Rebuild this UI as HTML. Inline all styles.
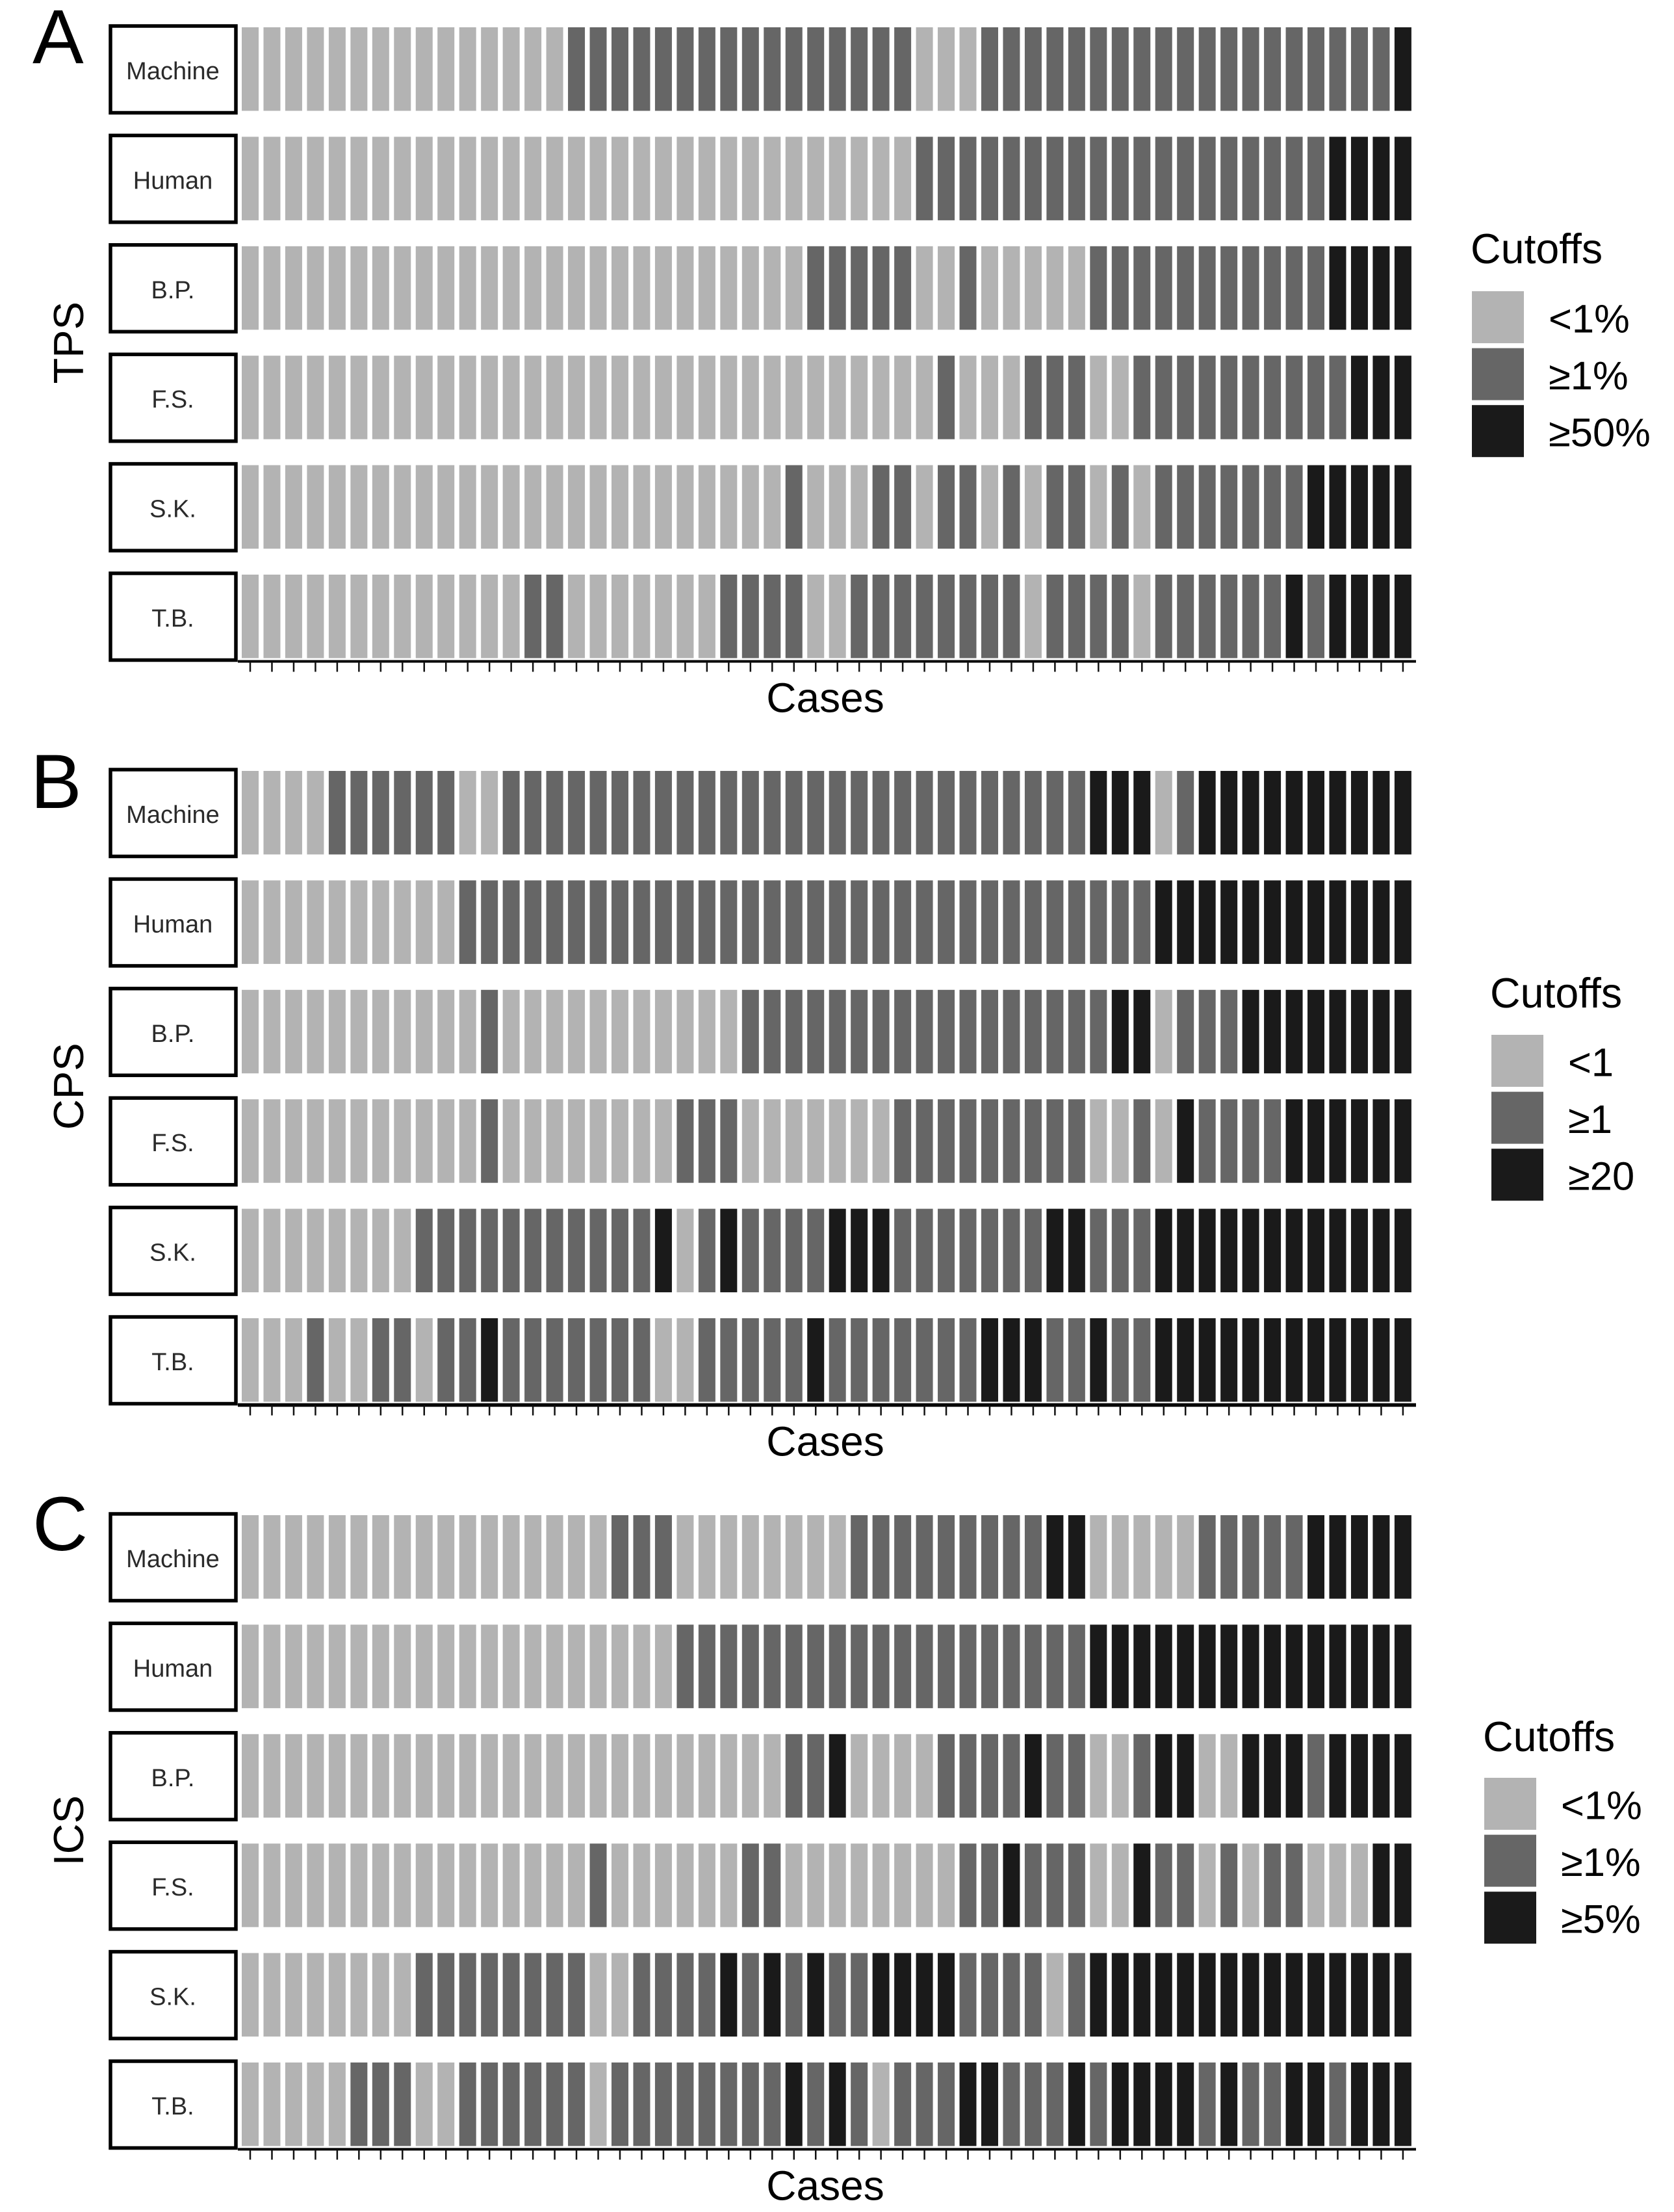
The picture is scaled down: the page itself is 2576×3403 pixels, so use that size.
<!DOCTYPE html>
<html lang="en">
<head>
<meta charset="utf-8">
<title>Cutoff agreement heatmaps: TPS, CPS, ICS</title>
<style>
html,body{margin:0;padding:0;background:#fff;}
svg{display:block;font-family:"Liberation Sans",Arial,sans-serif;}
</style>
</head>
<body>
<svg id="chart" xmlns="http://www.w3.org/2000/svg" width="2576" height="3403" viewBox="0 0 2576 3403"></svg>
<script>
const raters = ["Machine", "Human", "B.P.", "F.S.", "S.K.", "T.B."];
const panelLetters = ["A", "B", "C"];
const panelScores = ["TPS", "CPS", "ICS"];
const xTitle = "Cases";
const legendTitle = "Cutoffs";
const tpsLegend = ["<1%", "≥1%", "≥50%"];
const cpsLegend = ["<1", "≥1", "≥20"];
const icsLegend = ["<1%", "≥1%", "≥5%"];

const tpsMachine = [0,0,0,0,0,0,0,0,0,0, 0,0,0,0,0,1,1,1,1,1, 1,1,1,1,1,1,1,1,1,1, 1,0,0,0,1,1,1,1,1,1, 1,1,1,1,1,1,1,1,1,1, 1,1,1,2];
const tpsHuman   = [0,0,0,0,0,0,0,0,0,0, 0,0,0,0,0,0,0,0,0,0, 0,0,0,0,0,0,0,0,0,0, 0,1,1,1,1,1,1,1,1,1, 1,1,1,1,1,1,1,1,1,1, 2,2,2,2];
const tpsBP      = [0,0,0,0,0,0,0,0,0,0, 0,0,0,0,0,0,0,0,0,0, 0,0,0,0,0,0,1,1,1,1, 1,0,0,1,0,0,0,0,0,1, 1,1,1,1,1,1,1,1,1,1, 2,2,2,2];
const tpsFS      = [0,0,0,0,0,0,0,0,0,0, 0,0,0,0,0,0,0,0,0,0, 0,0,0,0,0,0,0,0,0,0, 0,0,1,0,0,0,1,1,1,0, 0,1,1,1,1,1,1,1,1,1, 1,2,2,2];
const tpsSK      = [0,0,0,0,0,0,0,0,0,0, 0,0,0,0,0,0,0,0,0,0, 0,0,0,0,0,1,0,0,0,1, 1,0,1,1,0,1,0,1,1,0, 1,0,1,1,1,1,1,1,1,2, 2,2,2,2];
const tpsTB      = [0,0,0,0,0,0,0,0,0,0, 0,0,0,1,1,0,0,0,0,0, 0,0,1,1,1,1,0,0,1,1, 1,1,1,1,1,1,0,1,1,1, 1,0,1,1,1,1,1,1,2,1, 2,2,2,2];

const cpsMachine = [0,0,0,0,1,1,1,1,1,1, 0,0,1,1,1,1,1,1,1,1, 1,1,1,1,1,1,1,1,1,1, 1,1,1,1,1,1,1,1,1,2, 2,2,0,1,2,2,2,2,2,2, 2,2,2,2];
const cpsHuman   = [0,0,0,0,0,0,0,0,0,0, 1,1,1,1,1,1,1,1,1,1, 1,1,1,1,1,1,1,1,1,1, 1,1,1,1,1,1,1,1,1,1, 1,1,2,2,2,2,2,2,2,2, 2,2,2,2];
const cpsBP      = [0,0,0,0,0,0,0,0,0,0, 0,1,0,0,0,0,0,0,0,0, 0,0,0,1,1,1,1,1,1,1, 1,1,1,1,1,1,1,1,1,1, 2,2,0,1,1,1,2,2,2,2, 2,2,2,2];
const cpsFS      = [0,0,0,0,0,0,0,0,0,0, 0,1,0,0,0,0,0,0,0,0, 1,1,1,0,0,0,0,0,0,0, 1,1,1,1,1,1,1,1,1,0, 0,1,0,2,1,1,1,1,2,2, 2,2,2,2];
const cpsSK      = [0,0,0,0,0,0,0,0,1,1, 1,1,1,1,1,1,1,1,1,2, 0,1,2,1,1,1,1,2,2,2, 1,1,1,1,1,1,1,2,2,1, 1,1,2,2,2,2,2,2,2,2, 2,2,2,2];
const cpsTB      = [0,0,0,1,0,0,1,1,0,1, 1,2,1,1,1,1,1,1,1,0, 0,1,1,1,1,1,2,1,1,1, 1,1,1,1,2,2,2,1,1,2, 1,1,2,2,2,2,2,2,2,2, 2,2,2,2];

const icsMachine = [0,0,0,0,0,0,0,0,0,0, 0,0,0,0,0,0,0,1,1,1, 0,0,0,0,0,0,0,0,1,1, 1,1,1,1,1,1,1,2,2,0, 0,0,0,0,1,1,1,1,1,2, 2,2,2,2];
const icsHuman   = [0,0,0,0,0,0,0,0,0,0, 0,0,0,0,0,0,0,0,0,0, 1,1,1,1,1,1,1,1,1,1, 1,1,1,1,1,1,1,1,1,2, 2,2,2,2,2,2,2,2,2,2, 2,2,2,2];
const icsBP      = [0,0,0,0,0,0,0,0,0,0, 0,0,0,0,0,0,0,0,0,0, 0,0,0,0,0,1,1,2,0,0, 0,0,1,1,1,1,2,1,1,0, 0,1,2,2,0,0,2,2,2,1, 2,2,2,2];
const icsFS      = [0,0,0,0,0,0,0,0,0,0, 0,0,0,0,0,0,1,0,0,0, 0,0,0,1,1,0,0,0,0,0, 0,0,0,1,1,2,1,1,1,0, 0,2,1,1,0,1,0,1,1,0, 0,0,2,2];
const icsSK      = [0,0,0,0,0,0,0,0,1,1, 1,1,1,1,1,1,0,0,1,1, 1,1,2,1,2,1,2,1,1,2, 2,2,2,1,1,1,1,0,1,2, 2,2,2,2,2,2,2,2,2,2, 2,2,2,2];
const icsTB      = [0,0,0,0,0,1,1,1,0,0, 1,1,1,1,1,1,0,1,1,1, 1,1,1,1,1,2,1,2,1,0, 1,1,1,2,2,1,1,1,2,1, 2,2,2,2,1,2,1,1,2,2, 1,2,2,2];

const tpsRows = [tpsMachine, tpsHuman, tpsBP, tpsFS, tpsSK, tpsTB];
const cpsRows = [cpsMachine, cpsHuman, cpsBP, cpsFS, cpsSK, cpsTB];
const icsRows = [icsMachine, icsHuman, icsBP, icsFS, icsSK, icsTB];
const panelRows = [tpsRows, cpsRows, icsRows];
const panelLegends = [tpsLegend, cpsLegend, icsLegend];

/* ---- layout ---- */
const levelFill = ["#b3b3b3", "#666666", "#1a1a1a"];
const barWidth = 26;
const barHeight = 128.5;
const panelTop = [42, 1186, 2331];
const legendLeft = [2264, 2294, 2283];
const legendTitleBase = [405, 1550, 2694];
const swatchTop = [448, 1592, 2735];
const labelLeft = [2383, 2413, 2402];
const letterBase = [97, 1243, 2385];
const letterLeft = [50, 47, 50];

function xScale(i) { return 385 + i * 33.47; }
function yScale(panel, r) { return panelTop[panel] + r * 168.4; }

const svg = document.getElementById("chart");
const NS = "http://www.w3.org/2000/svg";
function make(tag, attrs, parent) {
  const n = document.createElementNS(NS, tag);
  for (const k in attrs) n.setAttribute(k, attrs[k]);
  parent.appendChild(n);
  return n;
}

panelRows.forEach(function (rows, p) {
  const group = make("g", {}, svg);
  
  

  const letter = make("text", {x: letterLeft[p], y: letterBase[p], "font-size": 118, fill: "#000"}, group);
  letter.textContent = panelLetters[p];
  
  

  const midY = yScale(p, 2.5) + barHeight / 2;
  const yTitle = make("text", {x: 0, y: 0, "font-size": 65, fill: "#000", "text-anchor": "middle",
    transform: "translate(128," + midY + ") rotate(-90)"}, group);
  yTitle.textContent = panelScores[p];
  
  

  rows.forEach(function (values, r) {
    const top = yScale(p, r);

    const strip = make("rect", {x: 170, y: top - 2, width: 193, height: barHeight + 5, fill: "#fff", stroke: "#000", "stroke-width": 5.5}, group);
    
    

    const stripText = make("text", {x: 266, y: top + 80, "font-size": 38, fill: "#2a2a2a", "text-anchor": "middle"}, group);
    stripText.textContent = raters[r];
    
    

    values.forEach(function (v, i) {
      const bar = make("rect", {x: xScale(i) - barWidth / 2, y: top, width: barWidth, height: barHeight, fill: levelFill[v]}, group);
      
      
    });
  });

  const axisY = yScale(p, 5) + barHeight + 5;
  const axis = make("line", {x1: 366, x2: 2179, y1: axisY, y2: axisY, stroke: "#000", "stroke-width": p === 1 ? 5.5 : 4}, group);
  
  

  rows[0].forEach(function (v, i) {
    const tick = make("line", {x1: xScale(i), x2: xScale(i), y1: axisY, y2: axisY + 16, stroke: "#111", "stroke-width": 2.5}, group);
    
    
  });

  const xLabel = make("text", {x: 1270, y: axisY + 78, "font-size": 64, fill: "#000", "text-anchor": "middle"}, group);
  xLabel.textContent = xTitle;
  
  

  const legend = make("g", {}, group);
  
  

  const lTitle = make("text", {x: legendLeft[p] - 1, y: legendTitleBase[p], "font-size": 64.5, fill: "#000"}, legend);
  lTitle.textContent = legendTitle;
  
  

  panelLegends[p].forEach(function (label, k) {
    const sy = swatchTop[p] + k * 87.6;
    const swatch = make("rect", {x: legendLeft[p] + 1, y: sy, width: 80, height: 80, fill: levelFill[k]}, legend);
    
    

    const text = make("text", {x: labelLeft[p], y: sy + 63.5, "font-size": 61.5, fill: "#000"}, legend);
    text.textContent = label;
    
    
  });
});
</script>
</body>
</html>
